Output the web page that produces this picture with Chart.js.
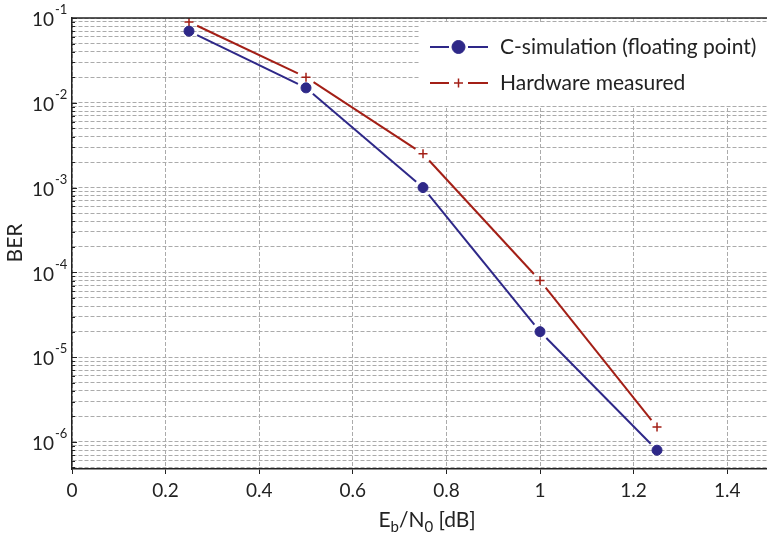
<!DOCTYPE html>
<html>
<head>
<meta charset="utf-8">
<script src="https://cdn.jsdelivr.net/npm/chart.js@4.4.1/dist/chart.umd.min.js"></script>
<style>
  body { margin: 0; background: #fff; overflow: hidden; }
  canvas { display: block; }
</style>
</head>
<body>
<canvas id="ber-chart" width="767" height="537"></canvas>
<script>
'use strict';

//************ DATA ************/
let ebN0 = [0.25, 0.5, 0.75, 1.0, 1.25];
let berSim = [7e-2, 1.5e-2, 1e-3, 2e-5, 8e-7];
let berHw = [9e-2, 2e-2, 2.5e-3, 8e-5, 1.5e-6];
let seriesNames = ['C-simulation (floating point)', 'Hardware measured'];
let xTicks = [0, 0.2, 0.4, 0.6, 0.8, 1, 1.2, 1.4];
let decades = [-1, -2, -3, -4, -5, -6];
let yMin = 4.8e-7;
let yMax = 1e-1;
let xMin = 0;
let xMax = 1.485;

//************ STYLE ************/
const FONT = 'Lato, "Open Sans", sans-serif';
const BLUE = '#2e2888';
const RED = '#a31f16';
const GRID = '#ababab';
const AXIS = '#222';

// minor + major y gridlines: 1..9 x 10^e inside the range
let yTickValues = [];
for (let e = -7; e <= -1; e++) {
  for (let m = 1; m <= 9; m++) {
    let v = parseFloat(m + 'e' + e);
    if (v >= yMin && v <= yMax * 1.0001) {
      yTickValues.push(v);
    }
  }
}

function toPoints(ys) {
  return ebN0.map((x, i) => ({ x: x, y: ys[i] }));
}

// draw a marker the same way chart.js does
function marker(ctx, style, r, color, bw, x, y) {
  ctx.save();
  ctx.fillStyle = color;
  ctx.strokeStyle = color;
  ctx.lineWidth = bw;
  Chart.helpers.drawPoint(ctx, { pointStyle: style, radius: r, rotation: 0, borderWidth: bw }, x, y);
  ctx.restore();
}

//************ PLUGIN: gapped lines, labels, legend ************/
const berDecor = {
  id: 'berDecor',
  beforeDatasetsDraw(chart) {
    const ctx = chart.ctx;
    const gap = 9;
    chart.data.datasets.forEach((ds, i) => {
      const pts = chart.getDatasetMeta(i).data;
      ctx.save();
      ctx.strokeStyle = ds.borderColor;
      ctx.lineWidth = 2;
      for (let k = 0; k < pts.length - 1; k++) {
        const a = pts[k];
        const b = pts[k + 1];
        const dx = b.x - a.x;
        const dy = b.y - a.y;
        const len = Math.hypot(dx, dy);
        const ux = dx / len;
        const uy = dy / len;
        ctx.beginPath();
        ctx.moveTo(a.x + ux * gap, a.y + uy * gap);
        ctx.lineTo(b.x - ux * gap, b.y - uy * gap);
        ctx.stroke();
      }
      ctx.restore();
    });
  },
  afterDraw(chart) {
    const ctx = chart.ctx;
    const area = chart.chartArea;
    const ys = chart.scales.y;

    ctx.save();
    // top frame line
    ctx.strokeStyle = AXIS;
    ctx.lineWidth = 1.5;
    ctx.beginPath();
    ctx.moveTo(area.left, area.top);
    ctx.lineTo(area.right, area.top);
    ctx.stroke();

    // inward ticks on the y axis
    ctx.lineWidth = 1;
    yTickValues.forEach(v => {
      const y = Math.round(ys.getPixelForValue(v)) + 0.5;
      const major = Math.abs(Math.log10(v) - Math.round(Math.log10(v))) < 1e-6;
      ctx.beginPath();
      ctx.moveTo(area.left, y);
      ctx.lineTo(area.left + (major ? 5 : 3), y);
      ctx.stroke();
    });

    // y tick labels 10^e
    ctx.fillStyle = AXIS;
    decades.forEach(e => {
      const y = ys.getPixelForValue(Math.pow(10, e));
      ctx.font = '19px ' + FONT;
      ctx.textAlign = 'right';
      ctx.textBaseline = 'middle';
      ctx.fillText('10', 54, y + 2);
      ctx.font = '13px ' + FONT;
      ctx.textAlign = 'left';
      ctx.fillText(String(e), 55, y - 8);
    });

    // y title
    ctx.save();
    ctx.translate(15, 243);
    ctx.rotate(-Math.PI / 2);
    ctx.font = '21px ' + FONT;
    ctx.textAlign = 'center';
    ctx.textBaseline = 'middle';
    ctx.fillText('BER', 0, 0);
    ctx.restore();

    // x title E_b/N_0 [dB]
    const parts = [
      ['E', 21, 0], ['b', 15, 5], ['/N', 21, 0], ['0', 15, 5], [' [dB]', 21, 0]
    ];
    let total = 0;
    parts.forEach(p => {
      ctx.font = p[1] + 'px ' + FONT;
      total += ctx.measureText(p[0]).width;
    });
    let tx = 427 - total / 2;
    ctx.textAlign = 'left';
    ctx.textBaseline = 'alphabetic';
    parts.forEach(p => {
      ctx.font = p[1] + 'px ' + FONT;
      ctx.fillText(p[0], tx, 527 + p[2]);
      tx += ctx.measureText(p[0]).width;
    });

    // legend
    ctx.fillStyle = '#fff';
    ctx.fillRect(420, 24, area.right - 420, 82);
    const rows = [
      { y: 47, color: BLUE, style: 'circle', r: 6.5, bw: 1 },
      { y: 83, color: RED, style: 'cross', r: 4.5, bw: 1.5 }
    ];
    rows.forEach((row, i) => {
      ctx.strokeStyle = row.color;
      ctx.lineWidth = 2;
      ctx.beginPath();
      ctx.moveTo(430, row.y);
      ctx.lineTo(449, row.y);
      ctx.moveTo(468, row.y);
      ctx.lineTo(488, row.y);
      ctx.stroke();
      marker(ctx, row.style, row.r, row.color, row.bw, 458.5, row.y);
      ctx.fillStyle = AXIS;
      ctx.font = '21px ' + FONT;
      ctx.textAlign = 'left';
      ctx.textBaseline = 'middle';
      ctx.fillText(seriesNames[i], 500, row.y);
    });
    ctx.restore();
  }
};

//************ CHART ************/
let ctx = document.getElementById('ber-chart');

let chartObj = {
  type: 'line',
  data: {
    datasets: [{
      label: seriesNames[0],
      data: toPoints(berSim),
      showLine: false,
      borderColor: BLUE,
      backgroundColor: BLUE,
      pointStyle: 'circle',
      pointRadius: 5,
      pointBorderWidth: 1
    },
    {
      label: seriesNames[1],
      data: toPoints(berHw),
      showLine: false,
      borderColor: RED,
      backgroundColor: RED,
      pointStyle: 'cross',
      pointRadius: 4.5,
      pointBorderWidth: 1.5
    }]
  },
  options: {
    responsive: false,
    animation: false,
    events: [],
    layout: { autoPadding: false, padding: { top: 18, left: 0, right: 0, bottom: 0 } },
    plugins: {
      legend: { display: false },
      tooltip: { enabled: false }
    },
    scales: {
      x: {
        type: 'linear',
        min: xMin,
        max: xMax,
        afterBuildTicks: s => { s.ticks = xTicks.map(v => ({ value: v })); },
        afterFit: s => { s.height = 68; },
        ticks: {
          font: { family: FONT, size: 19 },
          color: AXIS,
          padding: 5,
          maxRotation: 0,
          callback: v => String(+v.toFixed(1))
        },
        grid: { color: GRID, lineWidth: 1, tickColor: AXIS, tickLength: 5, tickBorderDash: [] },
        border: { display: true, color: AXIS, width: 1.5, dash: [4, 2] }
      },
      y: {
        type: 'logarithmic',
        min: yMin,
        max: yMax,
        afterBuildTicks: s => { s.ticks = yTickValues.map(v => ({ value: v })); },
        afterFit: s => { s.width = 72; },
        ticks: { display: false },
        grid: { color: GRID, lineWidth: 1, drawTicks: false },
        border: { display: true, color: AXIS, width: 1.5, dash: [4, 2] }
      }
    }
  },
  plugins: [berDecor]
};

new Chart(ctx, chartObj);
</script>
</body>
</html>
